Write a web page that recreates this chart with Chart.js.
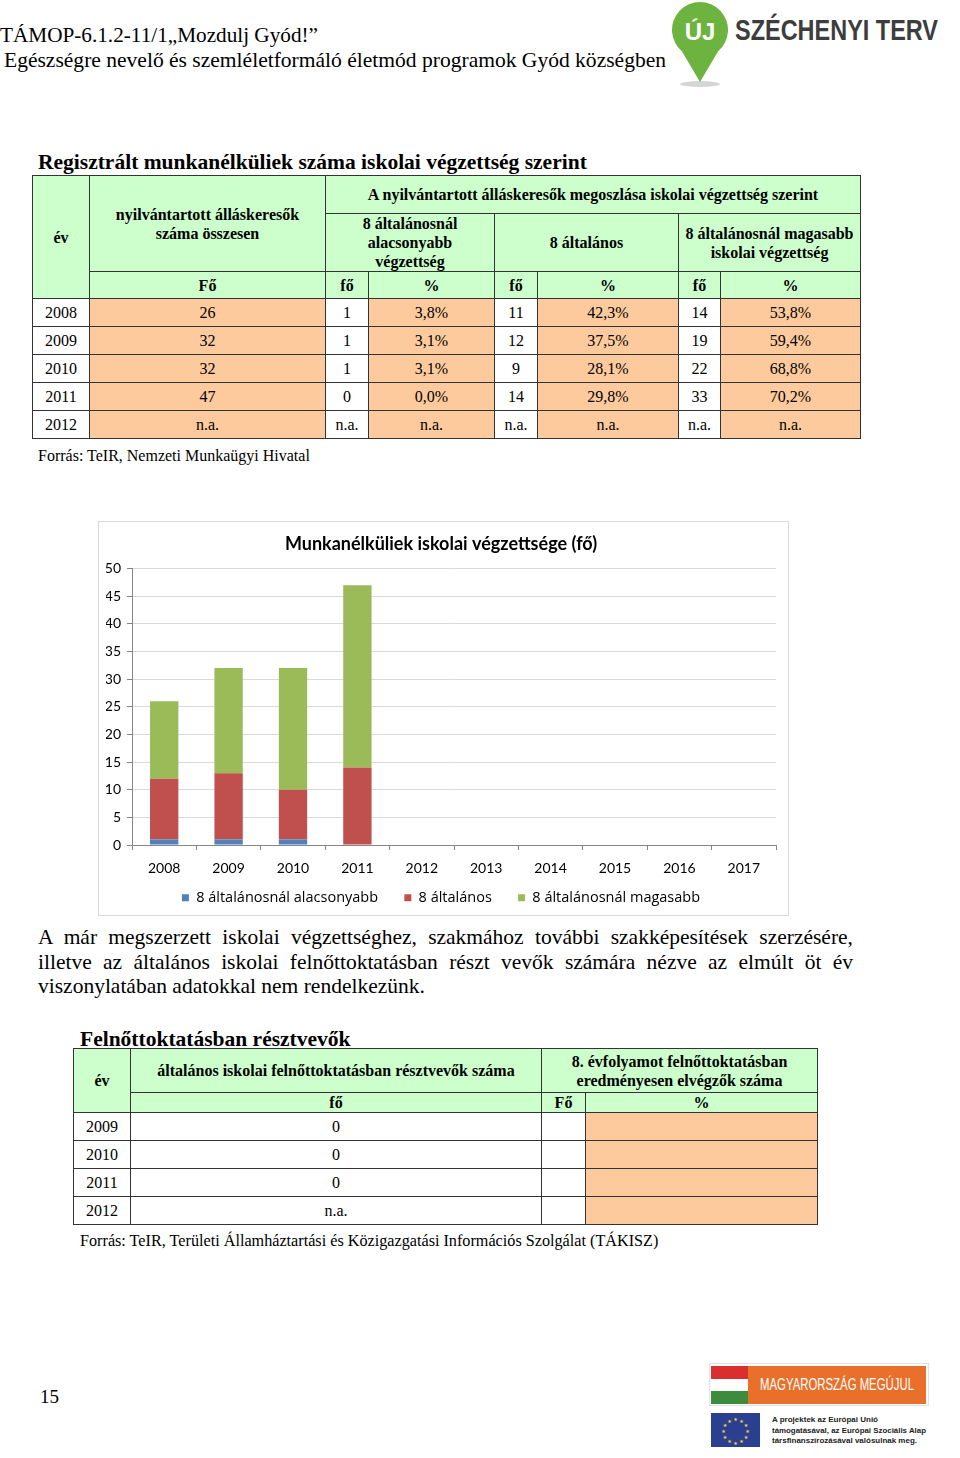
<!DOCTYPE html>
<html lang="hu">
<head>
<meta charset="utf-8">
<title>Munkanélküliek iskolai végzettsége</title>
<script src="https://cdn.jsdelivr.net/npm/chart.js@4.4.1/dist/chart.umd.min.js"></script>
<style>
  body { margin: 0; width: 960px; height: 1458px; position: relative; background: #fff;
         font-family: 'Liberation Serif', 'Times New Roman', serif; color: #000; overflow: hidden; }
  .abs { position: absolute; white-space: nowrap; }
  .fit { transform-origin: left top; }
  .title { font-weight: bold; font-size: 21.5px; }
  .src { font-size: 16px; }
  table { border-collapse: collapse; table-layout: fixed; }
  td { border: 1px solid #333; text-align: center; padding: 0; font-size: 16px; line-height: 19px; white-space: normal; }
  .g { background: #ccffcc; font-weight: bold; }
  .o { background: #fcca9c; }
  .w { background: #fff; }
  #chartBox { left: 98px; top: 521px; width: 691px; height: 395px; border: 1px solid #d9d9d9; box-sizing: border-box; }
  #para { left: 38px; top: 925px; width: 815px; font-size: 21.5px; line-height: 24.5px; text-align: justify; white-space: normal; }
  .logo { font-family: 'Liberation Sans', Arial, sans-serif; }
</style>
</head>
<body>

<div class="abs fit" style="left:0; top:23px; font-size:21px;" data-fit="318">TÁMOP-6.1.2-11/1„Mozdulj Gyód!”</div>
<div class="abs fit" style="left:4px; top:48px; font-size:21px;" data-fit="662">Egészségre nevelő és szemléletformáló életmód programok Gyód községben</div>

<svg class="abs" style="left:668px; top:0;" width="70" height="92">
  <ellipse cx="32" cy="84" rx="20" ry="3" fill="#d6d6d6"/>
  <path d="M32 82 L14 51.4 A28 28 0 1 1 50 51.4 Z" fill="#6db33f"/>
  <text x="32" y="40" text-anchor="middle" fill="#fff" font-family="Liberation Sans" font-weight="bold" font-size="24">ÚJ</text>
</svg>
<div class="abs fit logo" style="left:735px; top:14px; font-size:29px; font-weight:bold; color:#3d3d3d;" data-fit="203">SZÉCHENYI TERV</div>

<div class="abs title" style="left:38px; top:150px;">Regisztrált munkanélküliek száma iskolai végzettség szerint</div>

<table class="abs" style="left:32px; top:175px; width:828px;">
  <colgroup>
    <col style="width:57px"><col style="width:236px"><col style="width:43px"><col style="width:126px">
    <col style="width:43px"><col style="width:141px"><col style="width:42px"><col style="width:140px">
  </colgroup>
  <tr style="height:38px">
    <td class="g" rowspan="3">év</td>
    <td class="g" rowspan="2">nyilvántartott álláskeresők<br>száma összesen</td>
    <td class="g" colspan="6">A nyilvántartott álláskeresők megoszlása iskolai végzettség szerint</td>
  </tr>
  <tr style="height:58px">
    <td class="g" colspan="2">8 általánosnál<br>alacsonyabb<br>végzettség</td>
    <td class="g" colspan="2">8 általános</td>
    <td class="g" colspan="2">8 általánosnál magasabb<br>iskolai végzettség</td>
  </tr>
  <tr style="height:27px">
    <td class="g">Fő</td><td class="g">fő</td><td class="g">%</td><td class="g">fő</td><td class="g">%</td><td class="g">fő</td><td class="g">%</td>
  </tr>
  <tr style="height:28px"><td class="w">2008</td><td class="o">26</td><td class="w">1</td><td class="o">3,8%</td><td class="w">11</td><td class="o">42,3%</td><td class="w">14</td><td class="o">53,8%</td></tr>
  <tr style="height:28px"><td class="w">2009</td><td class="o">32</td><td class="w">1</td><td class="o">3,1%</td><td class="w">12</td><td class="o">37,5%</td><td class="w">19</td><td class="o">59,4%</td></tr>
  <tr style="height:28px"><td class="w">2010</td><td class="o">32</td><td class="w">1</td><td class="o">3,1%</td><td class="w">9</td><td class="o">28,1%</td><td class="w">22</td><td class="o">68,8%</td></tr>
  <tr style="height:28px"><td class="w">2011</td><td class="o">47</td><td class="w">0</td><td class="o">0,0%</td><td class="w">14</td><td class="o">29,8%</td><td class="w">33</td><td class="o">70,2%</td></tr>
  <tr style="height:28px"><td class="w">2012</td><td class="o">n.a.</td><td class="w">n.a.</td><td class="o">n.a.</td><td class="w">n.a.</td><td class="o">n.a.</td><td class="w">n.a.</td><td class="o">n.a.</td></tr>
</table>

<div class="abs src" style="left:38px; top:447px;">Forrás: TeIR, Nemzeti Munkaügyi Hivatal</div>

<div id="chartBox" class="abs">
  <canvas id="chart"></canvas>
</div>

<div id="para" class="abs">A már megszerzett iskolai végzettséghez, szakmához további szakképesítések szerzésére, illetve az általános iskolai felnőttoktatásban részt vevők számára nézve az elmúlt öt év viszonylatában adatokkal nem rendelkezünk.</div>

<div class="abs title" style="left:80px; top:1027px;">Felnőttoktatásban résztvevők</div>

<table class="abs" style="left:73px; top:1048px; width:744px;">
  <colgroup><col style="width:57px"><col style="width:411px"><col style="width:44px"><col style="width:232px"></colgroup>
  <tr style="height:44px">
    <td class="g" rowspan="2">év</td>
    <td class="g">általános iskolai felnőttoktatásban résztvevők száma</td>
    <td class="g" colspan="2">8. évfolyamot felnőttoktatásban<br>eredményesen elvégzők száma</td>
  </tr>
  <tr style="height:20px"><td class="g">fő</td><td class="g">Fő</td><td class="g">%</td></tr>
  <tr style="height:28px"><td class="w">2009</td><td class="w">0</td><td class="w"></td><td class="o"></td></tr>
  <tr style="height:28px"><td class="w">2010</td><td class="w">0</td><td class="w"></td><td class="o"></td></tr>
  <tr style="height:28px"><td class="w">2011</td><td class="w">0</td><td class="w"></td><td class="o"></td></tr>
  <tr style="height:28px"><td class="w">2012</td><td class="w">n.a.</td><td class="w"></td><td class="o"></td></tr>
</table>

<div class="abs src" style="left:80px; top:1232px; font-size:16.2px;">Forrás: TeIR, Területi Államháztartási és Közigazgatási Információs Szolgálat (TÁKISZ)</div>

<div class="abs" style="left:40px; top:1386px; font-size:19px;">15</div>

<svg class="abs" style="left:708px; top:1362px;" width="222" height="90">
  <rect x="1.5" y="1.5" width="219" height="42" fill="#fff" stroke="#e2e2e2"/>
  <rect x="3" y="4" width="37" height="13" fill="#d8302f"/>
  <rect x="3" y="17" width="37" height="12" fill="#fff"/>
  <rect x="3" y="29" width="37" height="13" fill="#3d8b3d"/>
  <rect x="40" y="4" width="178" height="38" fill="#e8702a"/>
  <rect x="3" y="51" width="49" height="34" fill="#2b3f90"/>
  <g fill="#f4d23a" font-size="5" text-anchor="middle" font-family="DejaVu Sans">
    <text x="27.5" y="59">★</text><text x="33.5" y="60.6">★</text><text x="37.9" y="65">★</text>
    <text x="39.5" y="71">★</text><text x="37.9" y="77">★</text><text x="33.5" y="81.4">★</text>
    <text x="27.5" y="83">★</text><text x="21.5" y="81.4">★</text><text x="17.1" y="77">★</text>
    <text x="15.5" y="71">★</text><text x="17.1" y="65">★</text><text x="21.5" y="60.6">★</text>
  </g>
</svg>
<div class="abs fit logo" style="left:760px; top:1376px; font-size:16px; color:#fff;" data-fit="154">MAGYARORSZÁG MEGÚJUL</div>
<div class="abs fit logo" style="left:772px; top:1415px; font-size:8px; line-height:10px; font-weight:bold; color:#222;" data-fit="106">A projektek az Európai Unió</div>
<div class="abs fit logo" style="left:772px; top:1426px; font-size:8px; line-height:10px; font-weight:bold; color:#222;" data-fit="154">támogatásával, az Európai Szociális Alap</div>
<div class="abs fit logo" style="left:772px; top:1436px; font-size:8px; line-height:10px; font-weight:bold; color:#222;" data-fit="145">társfinanszírozásával valósulnak meg.</div>

<script>
// Munkanélküliek iskolai végzettsége (fő)
var years = ['2008', '2009', '2010', '2011', '2012', '2013', '2014', '2015', '2016', '2017'];
var belowPrimary = [1, 1, 1, 0, null, null, null, null, null, null];
var primary = [11, 12, 9, 14, null, null, null, null, null, null];
var abovePrimary = [14, 19, 22, 33, null, null, null, null, null, null];
var seriesNames = ['8 általánosnál alacsonyabb', '8 általános', '8 általánosnál magasabb'];
var seriesColors = ['#4f81bd', '#c0504d', '#9bbb59'];
var yMax = 50;
var yStep = 5;

var chartFont = 'Lato';

// squeeze/stretch the scanned-looking header texts to their widths
var fitEls = document.querySelectorAll('[data-fit]');
fitEls.forEach(function (el) {
    el.style.display = 'inline-block';
    var w = el.getBoundingClientRect().width;
    el.style.transform = 'scaleX(' + (+el.getAttribute('data-fit') / w) + ')';
});

var bar_data = {
    labels: years,
    datasets: [belowPrimary, primary, abovePrimary].map(function (values, i) {
        return {
            label: seriesNames[i],
            data: values,
            backgroundColor: seriesColors[i],
            borderWidth: 0,
            barPercentage: 0.44,
            categoryPercentage: 1
        };
    })
};

var myBarChart = new Chart(document.getElementById('chart'), {
    type: 'bar',
    data: bar_data,
    options: {
        responsive: true,
        maintainAspectRatio: false,
        animation: false,
        layout: {
            padding: { left: 7, right: 12, top: 0, bottom: 0 }
        },
        plugins: {
            title: {
                display: true,
                text: 'Munkanélküliek iskolai végzettsége (fő)',
                color: '#000',
                font: { family: chartFont, size: 18, weight: 'bold' },
                padding: { top: 11, bottom: 14 }
            },
            legend: {
                position: 'bottom',
                labels: {
                    color: '#000',
                    font: { family: 'Open Sans', size: 14.5 },
                    boxWidth: 7,
                    boxHeight: 7,
                    padding: 4.5,
                    generateLabels: function (chart) {
                        var items = Chart.defaults.plugins.legend.labels.generateLabels(chart);
                        items.forEach(function (item, i) {
                            if (i < items.length - 1) item.text = item.text + '\u2002\u2002\u2002';
                        });
                        return items;
                    }
                }
            },
            tooltip: { enabled: false }
        },
        scales: {
            x: {
                stacked: true,
                grid: { display: true, drawOnChartArea: false, drawTicks: true, tickLength: 5, color: '#868686', offset: true },
                border: { display: true, color: '#868686' },
                ticks: { color: '#000', font: { family: chartFont, size: 14 }, padding: 9.6 }
            },
            y: {
                stacked: true,
                min: 0,
                max: yMax,
                afterFit: function (scale) { scale.width = 26; },
                grid: { color: '#d9d9d9', tickColor: '#868686', tickLength: 5 },
                border: { display: true, color: '#868686' },
                ticks: { stepSize: yStep, color: '#000', font: { family: chartFont, size: 14 }, padding: 6 }
            }
        }
    }
});
</script>
</body>
</html>
